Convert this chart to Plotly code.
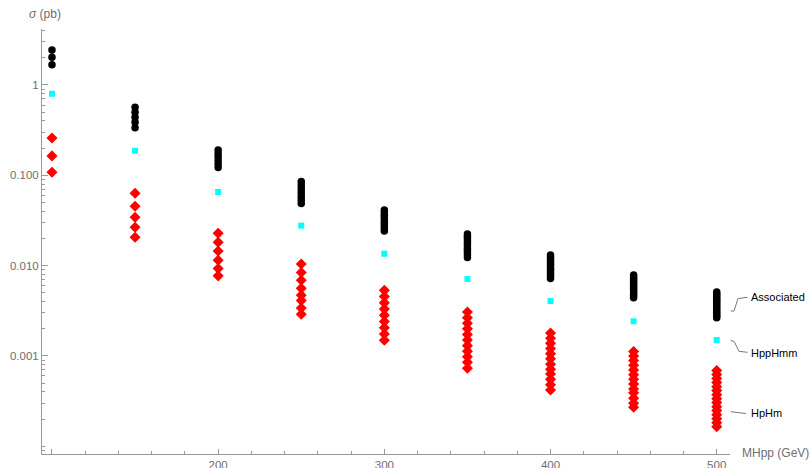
import plotly.graph_objects as go

masses = [100, 150, 200, 250, 300, 350, 400, 450, 500]

associated = [
    [2.44, 2.03, 1.68],
    [0.566, 0.499, 0.439, 0.386, 0.337],
    [0.191, 0.174, 0.160, 0.146, 0.133, 0.122],
    [0.0853, 0.0787, 0.0728, 0.0671, 0.0619, 0.0573, 0.0528, 0.0488],
    [0.0413, 0.0386, 0.0361, 0.0338, 0.0316, 0.0295, 0.0276, 0.0258, 0.0242],
    [0.0224, 0.0211, 0.0199, 0.0187, 0.0176, 0.0166, 0.0156, 0.0147, 0.0139, 0.0131, 0.0123],
    [0.0131, 0.0124, 0.0117, 0.0111, 0.0105, 0.0100, 0.0094, 0.0090, 0.0085, 0.0080, 0.0076, 0.0072],
    [0.00787, 0.00750, 0.00714, 0.00681, 0.00649, 0.00618, 0.00589, 0.00562, 0.00536, 0.00510, 0.00486, 0.00463, 0.00441],
    [0.00510, 0.00488, 0.00465, 0.00444, 0.00423, 0.00404, 0.00385, 0.00367, 0.00351, 0.00334, 0.00319, 0.00305, 0.00290, 0.00277, 0.00265],
]

hpphmm = [0.80, 0.187, 0.0653, 0.0277, 0.01354, 0.00711, 0.00405, 0.00242, 0.0015]

hphm = [
    [0.259, 0.164, 0.108],
    [0.0632, 0.0454, 0.0343, 0.0266, 0.0206],
    [0.0228, 0.0181, 0.0145, 0.0115, 0.0093, 0.0077],
    [0.0104, 0.0084, 0.0069, 0.0056, 0.0047, 0.0041, 0.0034, 0.0029],
    [0.00532, 0.00454, 0.00387, 0.00330, 0.00282, 0.00240, 0.00205, 0.00175, 0.00149],
    [0.00306, 0.00265, 0.00230, 0.00200, 0.00173, 0.00150, 0.00130, 0.00113, 0.00098, 0.00085, 0.00073],
    [0.00179, 0.00157, 0.00138, 0.00121, 0.00106, 0.00093, 0.00081, 0.00071, 0.00063, 0.00055, 0.00048, 0.00042],
    [0.00112, 0.00100, 0.00089, 0.00079, 0.00070, 0.00062, 0.00055, 0.00049, 0.00043, 0.00039, 0.00034, 0.00030, 0.00027],
    [0.000689, 0.000622, 0.000561, 0.000507, 0.000457, 0.000413, 0.000372, 0.000336, 0.000304, 0.000274, 0.000248, 0.000223, 0.000202, 0.000182, 0.000164],
]

series_names = ["Associated", "HppHmm", "HpHm"]
x_tick_vals = [100, 200, 300, 400, 500]
x_tick_text = ["", "200", "300", "400", "500"]
y_tick_vals = [1, 0.1, 0.01, 0.001]
y_tick_text = ["1", "0.100", "0.010", "0.001"]


def flatten(groups):
    xs, ys = [], []
    for m, vals in zip(masses, groups):
        for v in vals:
            xs.append(m)
            ys.append(v)
    return xs, ys


ax_x, ax_y = flatten(associated)
hp_x, hp_y = flatten(hphm)

fig = go.Figure()
fig.add_trace(go.Scatter(x=ax_x, y=ax_y, mode="markers", name=series_names[0],
                         marker=dict(symbol="circle", size=7.5, color="black")))
fig.add_trace(go.Scatter(x=masses, y=hpphmm, mode="markers", name=series_names[1],
                         marker=dict(symbol="square", size=6, color="#00FFFF")))
fig.add_trace(go.Scatter(x=hp_x, y=hp_y, mode="markers", name=series_names[2],
                         marker=dict(symbol="diamond", size=8.5, color="#FF0000")))

minor_y = []
for d in [1e-5, 1e-4, 1e-3, 1e-2, 1e-1, 1]:
    for k in range(2, 10):
        minor_y.append(round(k * d, 8))
minor_y.append(1e-4)

axis_col = "#9a9a9a"
lab_col = "#6e6e6e"
font_fam = "Liberation Sans, Arial, sans-serif"

fig.update_layout(
    width=809, height=468,
    margin=dict(l=42, r=79, t=29, b=14),
    plot_bgcolor="white", paper_bgcolor="white",
    showlegend=False,
    font=dict(family=font_fam, size=11, color=lab_col),
    xaxis=dict(range=[94, 508], showline=True, linecolor=axis_col, linewidth=1,
               showgrid=False, zeroline=False, ticks="inside", ticklen=5,
               tickcolor=axis_col, tickmode="array", tickvals=x_tick_vals,
               ticktext=x_tick_text, tickfont=dict(size=11.5, color=lab_col),
               automargin=False, ticklabelstandoff=0,
               minor=dict(ticks="inside", ticklen=3, tickcolor=axis_col,
                          tickmode="array",
                          tickvals=[v for v in range(100, 510, 20) if v % 100 != 0])),
    yaxis=dict(type="log", range=[-4.086, 0.62], showline=True, linecolor=axis_col,
               linewidth=1, showgrid=False, zeroline=False, ticks="inside",
               ticklen=6, tickcolor=axis_col, tickmode="array",
               tickvals=y_tick_vals, ticktext=y_tick_text,
               tickfont=dict(size=11.5, color=lab_col), automargin=False,
               minor=dict(ticks="inside", ticklen=3, tickcolor=axis_col,
                          tickmode="array", tickvals=minor_y)),
)


def px(xp):
    return (xp - 42) / 688.0


def py(yp):
    return (454 - yp) / 425.0


fig.add_annotation(x=px(27), y=py(14), xref="paper", yref="paper",
                   text="<i>σ</i> (pb)", showarrow=False, xanchor="left",
                   yanchor="middle", font=dict(size=12, color=lab_col))
fig.add_annotation(x=px(740), y=py(453), xref="paper", yref="paper",
                   text="MHpp (GeV)", showarrow=False, xanchor="left",
                   yanchor="middle", font=dict(size=12, color=lab_col))

label_pos = [(749, 297), (749, 352.5), (749, 412.5)]
for name, (lx, ly) in zip(series_names, label_pos):
    fig.add_annotation(x=px(lx), y=py(ly), xref="paper", yref="paper",
                       text=name, showarrow=False, xanchor="left",
                       yanchor="middle", font=dict(size=11, color="black"))

leader_paths = [
    [(730.7, 311), (734, 311), (738, 298.5), (747.5, 297.3)],
    [(730.7, 340.3), (734.3, 341.7), (739, 351.3), (747.5, 352.3)],
    [(730.7, 411.7), (746, 413.5)],
]
for pts in leader_paths:
    path = "M " + " L ".join(f"{px(a):.5f},{py(b):.5f}" for a, b in pts)
    fig.add_shape(type="path", path=path, xref="paper", yref="paper",
                  line=dict(color="#777777", width=1))

fig.write_html("out.html", config={"displayModeBar": False},
               post_script="document.body.style.margin='0px';document.body.style.padding='0px';")
